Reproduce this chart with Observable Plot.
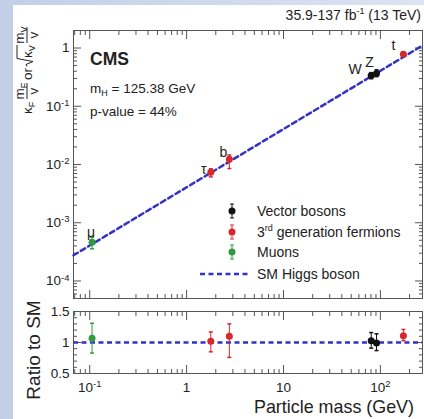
<!DOCTYPE html>
<html><head><meta charset="utf-8">
<script src="https://cdn.jsdelivr.net/npm/d3@7"></script>
<script src="https://cdn.jsdelivr.net/npm/@observablehq/plot@0.6"></script>
<style>
html,body{margin:0;padding:0;}
body{width:424px;height:419px;overflow:hidden;position:relative;background:linear-gradient(90deg,#c2cfe7,#dbe4f2);font-family:"Liberation Sans",Arial,sans-serif;}
#panel{position:absolute;left:13px;top:5px;width:411px;height:414px;background:#fff;}
#upper,#lower{position:absolute;left:0;}
#upper{top:0;}
#lower{top:300px;}
#overlay{position:absolute;left:0;top:0;pointer-events:none;}
</style></head><body>
<div id="panel"></div>
<div id="upper"></div>
<div id="lower"></div>
<svg id="overlay" width="424" height="419" font-family="'Liberation Sans', Arial, sans-serif" fill="#222">
  <text x="421" y="20" text-anchor="end" font-size="14">35.9-137 fb<tspan font-size="9" dy="-6">-1</tspan><tspan dy="6"> (13 TeV)</tspan></text>
  <text x="90" y="65" font-size="17.5" font-weight="bold">CMS</text>
  <text x="90" y="93" font-size="13.5">m<tspan font-size="9" dy="3">H</tspan><tspan dy="-3"> = 125.38 GeV</tspan></text>
  <text x="90" y="116" font-size="13.5">p-value = 44%</text>
  <!-- legend -->
  <g id="legend" font-size="14"></g>
  <!-- upper y title -->
  <g transform="translate(27,67) rotate(-90)" font-size="13.5">
    <text x="-47" y="4.5">κ<tspan font-size="9" dy="3">F</tspan></text>
    <text x="-24" y="-3" text-anchor="middle">m<tspan font-size="9" dy="3">F</tspan></text>
    <line x1="-32" x2="-16" y1="0" y2="0" stroke="#222" stroke-width="1"/>
    <text x="-24" y="11" text-anchor="middle">v</text>
    <text x="-13" y="4.5">or</text>
    <path d="M0.5,0 L2.5,-1 L5.5,6 L8.5,-10 L22,-10" fill="none" stroke="#222" stroke-width="1"/>
    <text x="9" y="4.5">κ<tspan font-size="9" dy="3">V</tspan></text>
    <text x="32" y="-3" text-anchor="middle">m<tspan font-size="9" dy="3">V</tspan></text>
    <line x1="24" x2="40" y1="0" y2="0" stroke="#222" stroke-width="1"/>
    <text x="32" y="11" text-anchor="middle">v</text>
  </g>
  <text transform="translate(40,350) rotate(-90)" text-anchor="middle" font-size="19">Ratio to SM</text>
  <text x="254" y="413" font-size="19" textLength="160" lengthAdjust="spacingAndGlyphs">Particle mass (GeV)</text>
</svg>
<script>
// ---- data ----
const particleLabels = ["μ", "τ", "b", "W", "Z", "t"];
const particleGroup = ["Muons", "3rd generation fermions", "3rd generation fermions", "Vector bosons", "Vector bosons", "3rd generation fermions"];
const particleMass = [0.1057, 1.777, 2.76, 80.38, 91.19, 172.76];           // GeV
const reducedCoupling = [4.6e-4, 7.36e-3, 1.233e-2, 0.336, 0.367, 0.779];  // upper panel
const ratioToSM = [1.07, 1.02, 1.10, 1.03, 0.99, 1.11];
const ratioErrUp = [0.24, 0.15, 0.20, 0.13, 0.15, 0.10];
const ratioErrDown = [0.24, 0.17, 0.34, 0.12, 0.12, 0.08];
const groupNames = ["Vector bosons", "3rd generation fermions", "Muons"];
const vev = 246.22;
const smLineMass = [0.068, 272];
const xTickValues = [0.1, 1, 10, 100];
const xTickLabels = ["10^-1", "1", "10", "10^2"];
const yTickValues = [1e-4, 1e-3, 1e-2, 1e-1, 1];
const yTickLabels = ["10^-4", "10^-3", "10^-2", "10^-1", "1"];
const ratioTickValues = [0.5, 1, 1.5];
const ratioTickLabels = ["0.5", "1", "1.5"];

// ---- styles ----
const groupColors = ["#111111", "#d7282d", "#2f9a40"];
const smColor = "#3232c8";
const axisColor = "#555";
const labelOffset = {"μ": [-1, -10], "τ": [-7, -3], "b": [-6, -7], "W": [-16, -6], "Z": [-7, -11], "t": [-10, -9]};
const xDomain = [0.068, 272];
const yDomain = [5e-5, 2];

const rows = particleLabels.map((p, i) => ({
  label: p, group: particleGroup[i], mass: particleMass[i],
  coupling: reducedCoupling[i],
  cLo: reducedCoupling[i] * (ratioToSM[i] - ratioErrDown[i]) / ratioToSM[i],
  cHi: reducedCoupling[i] * (ratioToSM[i] + ratioErrUp[i]) / ratioToSM[i],
  ratio: ratioToSM[i], rLo: ratioToSM[i] - ratioErrDown[i], rHi: ratioToSM[i] + ratioErrUp[i]
}));
const smLine = smLineMass.map(m => ({mass: m, value: m / vev}));

function minorLog([lo, hi]) {
  const out = [];
  for (let k = -6; k <= 3; k++) for (let m = 2; m <= 9; m++) {
    const v = m * Math.pow(10, k);
    if (v >= lo && v <= hi) out.push(v);
  }
  return out;
}
const xMinor = minorLog(xDomain);
const yMinor = minorLog(yDomain);
const ratioMinor = [0.6, 0.7, 0.8, 0.9, 1.1, 1.2, 1.3, 1.4];

const cap = {draw(ctx, size) { const w = Math.sqrt(size / Math.PI); ctx.moveTo(-w, 0); ctx.lineTo(w, 0); }};
const style = {background: "transparent", fontFamily: "'Liberation Sans', Arial, sans-serif", fontSize: "13.5px", color: "#222", overflow: "visible"};
const color = {domain: groupNames, range: groupColors};

function tickMarks(kind, values, len, anchor) {
  const f = kind === "x" ? Plot.axisX : Plot.axisY;
  return f(values, {anchor, tickSize: -len, fill: "none", stroke: axisColor, label: null});
}

const upper = Plot.plot({
  width: 424, height: 300, marginLeft: 73, marginRight: 2, marginTop: 30, marginBottom: 2,
  style, color,
  x: {type: "log", domain: xDomain},
  y: {type: "log", domain: yDomain},
  marks: [
    Plot.axisY(yTickValues, {anchor: "left", tickSize: 0, tickPadding: 4, label: null, fill: "#222",
      tickFormat: d => yTickLabels[yTickValues.indexOf(d)]}),
    tickMarks("y", yTickValues, 8, "left"), tickMarks("y", yMinor, 4, "left"),
    tickMarks("y", yTickValues, 8, "right"), tickMarks("y", yMinor, 4, "right"),
    tickMarks("x", xTickValues, 8, "top"), tickMarks("x", xMinor, 4, "top"),
    tickMarks("x", xTickValues, 8, "bottom"), tickMarks("x", xMinor, 4, "bottom"),
    Plot.frame({stroke: axisColor}),
    Plot.line(smLine, {x: "mass", y: "value", stroke: smColor, strokeWidth: 2.5, strokeDasharray: "5,3.5"}),
    Plot.link(rows, {x1: "mass", x2: "mass", y1: "cLo", y2: "cHi", stroke: "group", strokeWidth: 1}),
    Plot.dot(rows, {x: "mass", y: "cLo", symbol: cap, r: 2, stroke: "group"}),
    Plot.dot(rows, {x: "mass", y: "cHi", symbol: cap, r: 2, stroke: "group"}),
    Plot.dot(rows, {x: "mass", y: "coupling", r: 3.5, fill: "group"}),
    ...rows.map(d => Plot.text([d], {x: "mass", y: "coupling", text: "label", fontSize: 14, fill: "#222",
      dx: labelOffset[d.label][0], dy: labelOffset[d.label][1]}))
  ]
});

const lower = Plot.plot({
  width: 424, height: 119, marginLeft: 73, marginRight: 2, marginTop: 11, marginBottom: 46,
  style, color,
  x: {type: "log", domain: xDomain},
  y: {domain: [0.5, 1.5]},
  marks: [
    Plot.axisY(ratioTickValues, {anchor: "left", tickSize: 0, tickPadding: 4, label: null, fill: "#222",
      tickFormat: d => ratioTickLabels[ratioTickValues.indexOf(d)]}),
    Plot.axisX(xTickValues, {anchor: "bottom", tickSize: 0, tickPadding: 9, label: null, fill: "#222",
      tickFormat: d => xTickLabels[xTickValues.indexOf(d)]}),
    tickMarks("y", ratioTickValues, 8, "left"), tickMarks("y", ratioMinor, 4, "left"),
    tickMarks("y", ratioTickValues, 8, "right"), tickMarks("y", ratioMinor, 4, "right"),
    tickMarks("x", xTickValues, 8, "top"), tickMarks("x", xMinor, 4, "top"),
    tickMarks("x", xTickValues, 8, "bottom"), tickMarks("x", xMinor, 4, "bottom"),
    Plot.frame({stroke: axisColor}),
    Plot.ruleY([1], {stroke: smColor, strokeWidth: 2.5, strokeDasharray: "5,3.5"}),
    Plot.link(rows, {x1: "mass", x2: "mass", y1: "rLo", y2: "rHi", stroke: "group", strokeWidth: 1}),
    Plot.dot(rows, {x: "mass", y: "rLo", symbol: cap, r: 2, stroke: "group"}),
    Plot.dot(rows, {x: "mass", y: "rHi", symbol: cap, r: 2, stroke: "group"}),
    Plot.dot(rows, {x: "mass", y: "ratio", r: 3.5, fill: "group"})
  ]
});

function superscripts(svg) {
  svg.querySelectorAll("text").forEach(t => {
    const s = t.textContent;
    if (s.includes("^")) {
      const [base, exp] = s.split("^");
      t.textContent = base;
      const ts = document.createElementNS("http://www.w3.org/2000/svg", "tspan");
      ts.setAttribute("dy", "-0.5em");
      ts.setAttribute("font-size", "0.7em");
      ts.textContent = exp;
      t.appendChild(ts);
    }
  });
}
superscripts(upper); superscripts(lower);
document.getElementById("upper").appendChild(upper);
document.getElementById("lower").appendChild(lower);

// legend (static key)
const legend = d3.select("#legend");
const legendRows = [211, 232, 252];
groupNames.forEach((g, i) => {
  const y = legendRows[i], x = 232, c = groupColors[i];
  legend.append("line").attr("x1", x).attr("x2", x).attr("y1", y - 7).attr("y2", y + 7).attr("stroke", c).attr("stroke-width", 1);
  legend.append("line").attr("x1", x - 2).attr("x2", x + 2).attr("y1", y - 7).attr("y2", y - 7).attr("stroke", c);
  legend.append("line").attr("x1", x - 2).attr("x2", x + 2).attr("y1", y + 7).attr("y2", y + 7).attr("stroke", c);
  legend.append("circle").attr("cx", x).attr("cy", y).attr("r", 3.5).attr("fill", c);
  const t = legend.append("text").attr("x", 257).attr("y", y + 5);
  if (g.startsWith("3rd")) {
    t.append("tspan").text("3");
    t.append("tspan").attr("font-size", 9).attr("dy", -6).text("rd");
    t.append("tspan").attr("dy", 6).text(" generation fermions");
  } else t.text(g);
});
legend.append("line").attr("x1", 200).attr("x2", 248).attr("y1", 274).attr("y2", 274)
  .attr("stroke", smColor).attr("stroke-width", 2.5).attr("stroke-dasharray", "5,3.5");
legend.append("text").attr("x", 257).attr("y", 279).text("SM Higgs boson");
</script>
</body></html>
